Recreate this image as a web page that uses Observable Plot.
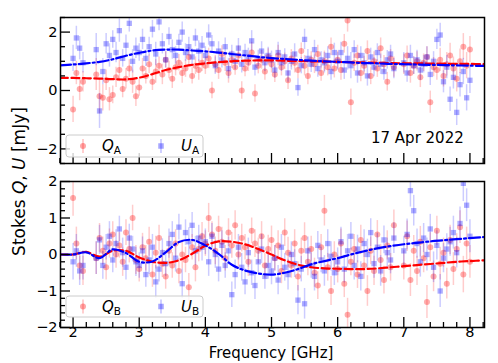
<!DOCTYPE html>
<html><head><meta charset="utf-8">
<script src="https://cdn.jsdelivr.net/npm/d3@7"></script>
<script src="https://cdn.jsdelivr.net/npm/@observablehq/plot@0.6"></script>
<style>
body{margin:0;background:#fff;}
#root{position:relative;width:498px;height:363px;overflow:hidden;background:#fff;font-family:"DejaVu Sans",sans-serif;}
#root > svg{position:absolute;left:0;}
</style></head><body><div id="root"></div>
<script>
// ---- channel frequencies (GHz) ----
const freq = [
 2.00,2.05,2.10,2.15,
 2.35,2.40,2.45,2.50,2.55,2.60,2.65,2.70,2.75,2.80,2.85,2.90,2.95,
 3.00,3.05,3.10,3.15,3.20,3.25,3.30,3.35,3.40,3.45,3.50,3.55,3.60,3.65,3.70,3.75,3.80,3.85,3.90,3.95,
 4.00,4.05,4.10,4.15,4.20,4.25,4.30,4.35,4.40,4.45,4.50,4.55,4.60,4.65,4.70,4.75,4.80,4.85,4.90,4.95,
 5.00,5.05,5.10,5.15,5.20,5.25,5.30,5.35,5.40,5.45,5.50,5.55,5.60,5.65,5.70,5.75,5.80,5.85,5.90,5.95,
 6.00,6.05,6.10,6.15,6.20,6.25,6.30,6.35,6.40,6.45,6.50,6.55,6.60,6.65,6.70,6.75,6.80,6.85,
 7.00,7.05,7.10,7.15,7.20,7.25,7.30,7.35,7.40,7.45,7.50,7.55,7.60,7.65,7.70,7.75,7.80,7.85,7.90,7.95,
 8.00];

// ---- panel A (17 Apr 2022) ----
const QA = [
 -0.65,0.6,0.05,0.3,
 0.55,-0.2,-0.25,0.35,-0.3,-0.15,0.45,0.7,0.05,0.4,0.75,0.3,-0.2,
 0.1,0.75,0.5,0.9,0.3,0.65,0.85,0.55,1.05,0.7,0.4,0.8,0.95,0.6,0.75,1.15,0.5,0.85,0.7,0.95,
 0.85,1.1,0.0,0.9,0.7,1.25,0.95,0.6,1.05,0.8,1.2,0.0,0.75,0.95,1.3,-0.1,0.85,1.05,0.65,1.15,
 0.9,0.55,1.2,0.8,1.0,0.35,1.1,0.95,0.7,1.35,0.85,0.5,1.05,0.9,1.25,0.6,1.0,0.8,1.5,0.75,
 1.05,0.7,1.6,2.4,-0.4,0.95,1.2,0.6,0.85,1.35,0.5,1.0,0.75,1.45,0.9,0.3,1.1,0.8,
 0.9,1.2,0.6,0.85,1.0,0.45,0.95,1.15,-0.4,0.8,0.7,1.05,0.5,0.9,1.2,0.75,0.4,1.0,1.5,0.85,
 1.4];
const UA = [
 1.1,1.8,1.45,0.95,
 1.4,-0.7,0.65,1.6,1.2,1.75,1.3,2.05,1.1,1.55,2.3,1.0,1.45,
 1.3,1.75,1.1,1.5,2.1,1.25,2.35,1.6,1.05,1.85,1.4,1.2,1.65,2.0,1.3,1.5,1.15,1.8,1.35,1.55,
 1.2,1.9,1.6,0.85,1.35,1.05,1.5,0.75,1.25,1.0,1.45,0.9,1.3,1.15,1.7,0.8,1.1,1.35,0.95,1.2,
 1.05,0.7,1.3,0.95,1.15,0.6,1.0,1.25,0.1,0.85,1.75,1.1,0.9,1.4,0.75,1.05,0.95,1.2,0.65,1.3,
 1.0,1.3,0.7,1.1,0.85,1.4,0.6,1.2,0.95,0.5,1.15,0.8,1.3,0.9,0.65,1.05,1.25,0.75,
 0.95,0.6,1.2,0.85,1.05,0.7,0.9,1.15,0.55,1.0,1.75,1.9,0.3,0.8,-0.3,0.45,-0.75,0.2,0.65,-0.25,
 0.35];
const errA = [
 0.45,0.4,0.4,0.35,
 0.55,0.6,0.45,0.35,0.4,0.3,0.35,0.4,0.3,0.35,0.3,0.4,0.35,
 0.3,0.35,0.28,0.32,0.3,0.4,0.3,0.35,0.28,0.3,0.33,0.3,0.28,0.35,0.3,0.32,0.28,0.3,0.35,0.3,
 0.3,0.35,0.28,0.3,0.32,0.28,0.3,0.35,0.3,0.28,0.33,0.3,0.28,0.3,0.35,0.3,0.28,0.32,0.3,0.28,
 0.3,0.28,0.35,0.3,0.28,0.32,0.3,0.35,0.3,0.28,0.35,0.3,0.28,0.32,0.3,0.28,0.35,0.3,0.3,0.32,
 0.3,0.35,0.32,0.4,0.45,0.3,0.35,0.3,0.32,0.35,0.3,0.33,0.3,0.35,0.3,0.32,0.3,0.35,
 0.35,0.32,0.35,0.3,0.33,0.35,0.3,0.35,0.38,0.33,0.35,0.4,0.38,0.4,0.42,0.4,0.45,0.42,0.45,0.45,
 0.45];

// ---- panel B ----
const QB = [
 1.55,0.3,-0.3,-0.45,
 -0.1,0.45,0.1,-0.35,0.3,0.55,0.0,0.25,-0.2,0.6,0.15,1.0,-0.15,
 -0.4,0.2,-0.1,0.35,-0.55,0.05,0.45,-0.25,-0.6,0.1,-0.3,0.3,-0.45,0.0,-0.15,-0.9,0.2,-0.35,0.15,0.5,
 0.3,1.0,0.55,0.1,0.7,0.35,-0.1,0.6,0.25,0.8,0.0,0.45,0.2,-0.2,0.65,0.3,0.1,0.5,-0.3,0.15,
 0.4,-0.1,0.25,-0.45,0.6,0.05,-0.3,0.3,-0.6,0.1,0.45,-0.2,0.15,-0.5,-0.85,0.2,1.2,-0.35,-1.0,0.0,
 -0.4,0.3,-0.8,-1.65,-0.2,0.15,-0.55,0.4,-0.3,-1.0,0.1,-0.45,0.55,-0.15,-0.7,0.25,-0.35,0.8,
 -0.3,0.5,-0.7,0.1,-0.45,0.35,-0.1,-1.3,0.2,-0.6,0.65,-0.25,0.05,-0.8,0.4,-0.4,0.15,0.75,-0.55,0.3,
 -0.2];
const UB = [
 -0.2,0.1,-0.45,-0.3,
 -0.1,0.4,-0.3,0.2,0.5,-0.15,0.3,0.7,0.05,-0.35,0.45,0.15,-0.2,
 -0.3,0.1,-0.55,-0.15,0.2,-0.75,-0.4,0.05,-0.25,0.3,0.55,-0.1,0.75,-0.8,0.6,0.35,0.8,0.1,0.45,0.2,
 0.35,-0.2,0.5,0.0,-0.4,0.25,-0.3,0.1,-1.1,-0.55,0.2,-0.35,-0.75,0.05,-0.5,-0.85,-0.2,0.15,-0.6,-0.3,
 -0.45,-0.1,-0.7,0.2,-0.35,-0.55,0.0,-0.25,-1.25,-0.4,-1.35,0.1,-0.3,-0.6,0.25,-0.15,-0.45,0.3,-0.05,-0.5,
 -0.2,0.35,-0.4,0.1,0.5,-0.3,0.15,-0.6,0.3,0.0,0.6,-0.25,0.2,-0.45,0.4,0.05,-0.15,0.45,
 0.1,0.55,1.75,1.2,0.3,-0.2,0.45,0.0,0.7,-0.35,0.25,-1.0,-0.1,0.15,0.35,0.6,0.05,0.85,1.95,1.35,
 0.5];
const errB = [
 0.5,0.45,0.4,0.4,
 0.45,0.4,0.38,0.35,0.4,0.35,0.38,0.35,0.4,0.35,0.38,0.35,0.4,
 0.35,0.38,0.35,0.4,0.35,0.45,0.35,0.38,0.35,0.4,0.35,0.38,0.35,0.4,0.35,0.38,0.35,0.4,0.35,0.38,
 0.35,0.4,0.35,0.38,0.35,0.4,0.35,0.38,0.35,0.4,0.35,0.38,0.35,0.4,0.35,0.38,0.35,0.4,0.35,0.38,
 0.38,0.35,0.4,0.35,0.38,0.42,0.35,0.38,0.4,0.35,0.42,0.38,0.35,0.4,0.38,0.35,0.42,0.38,0.4,0.35,
 0.38,0.4,0.38,0.45,0.38,0.4,0.38,0.4,0.38,0.42,0.38,0.4,0.38,0.42,0.38,0.4,0.38,0.42,
 0.4,0.42,0.45,0.42,0.4,0.42,0.4,0.45,0.4,0.42,0.4,0.45,0.4,0.42,0.4,0.45,0.42,0.45,0.5,0.45,
 0.45];

// ---- model curves ----
const modelF = [1.8,2.0,2.2,2.4,2.6,2.8,3.0,3.2,3.4,3.6,3.8,4.0,4.2,4.4,4.6,4.8,5.0,5.2,5.4,5.6,5.8,6.0,6.2,6.4,6.6,6.8,7.0,7.2,7.4,7.6,7.8,8.0,8.22];
const modelQA = [0.43,0.43,0.42,0.41,0.39,0.38,0.44,0.56,0.7,0.8,0.88,0.93,0.97,1.0,1.02,1.03,1.03,1.02,1.01,1.0,0.99,0.98,0.97,0.96,0.95,0.94,0.93,0.93,0.92,0.92,0.91,0.91,0.9];
const modelUA = [0.86,0.89,0.93,0.98,1.07,1.19,1.29,1.37,1.4,1.4,1.37,1.34,1.3,1.25,1.2,1.15,1.11,1.08,1.05,1.02,1.0,0.98,0.96,0.94,0.93,0.91,0.9,0.89,0.88,0.87,0.86,0.85,0.84];
const modelQB = [0.0,0.0,0.07,-0.06,0.1,0.1,-0.08,-0.2,-0.23,-0.16,0.02,0.24,0.36,0.35,0.28,0.15,0.0,-0.16,-0.28,-0.35,-0.38,-0.39,-0.4,-0.4,-0.38,-0.35,-0.32,-0.29,-0.26,-0.23,-0.2,-0.18,-0.16];
const modelUB = [0.0,0.0,0.06,-0.1,0.14,0.04,-0.2,-0.19,0.06,0.34,0.4,0.25,0.02,-0.28,-0.44,-0.52,-0.55,-0.5,-0.4,-0.27,-0.18,-0.1,0.0,0.09,0.17,0.23,0.28,0.32,0.36,0.39,0.42,0.45,0.48];

// ---- ticks & labels ----
const xTicks = [2,3,4,5,6,7,8];
const yTicksA = [-2,0,2];
const yTicksB = [-2,-1,0,1,2];
const seriesNames = ["Q","U"];
const panelTags = ["A","B"];
const dateText = "17 Apr 2022";
const xLabel = "Frequency [GHz]";

const W = 498, ML = 60, MR = 14;
const xDomain = [1.81, 8.22];
const fmt = d => d < 0 ? "\u2212" + Math.abs(d) : String(d);
const xMinor = d3.range(1.8, 8.25, 0.2).map(v => +v.toFixed(2)).filter(v => Math.abs(v - Math.round(v)) > 0.01);

function panel({q, u, e, qm, um, yDomain, yMajor, yMinor, height, mt, mb, xLabels}) {
  const fw = W - ML - MR, fh = height - mt - mb;
  const rows = freq.map((f, i) => ({f, q: q[i], u: u[i], e: e[i]}));
  const qLine = modelF.map((f, i) => ({f, v: qm[i]}));
  const uLine = modelF.map((f, i) => ({f, v: um[i]}));
  const tk = {stroke: "black", strokeWidth: 1.3};
  const marks = [
    Plot.ruleX(rows, {x: "f", y1: d => d.q - d.e, y2: d => d.q + d.e, stroke: "red", strokeOpacity: 0.2, strokeWidth: 1.5, clip: true}),
    Plot.dot(rows, {x: "f", y: "q", r: 3, fill: "red", fillOpacity: 0.32, clip: true}),
    Plot.ruleX(rows, {x: "f", y1: d => d.u - d.e, y2: d => d.u + d.e, stroke: "blue", strokeOpacity: 0.2, strokeWidth: 1.5, clip: true}),
    Plot.dot(rows, {x: "f", y: "u", r: 3, symbol: "square", fill: "blue", fillOpacity: 0.32, clip: true}),
    Plot.line(qLine, {x: "f", y: "v", stroke: "red", strokeWidth: 2.2, strokeDasharray: "8,3.5", curve: "catmull-rom", clip: true}),
    Plot.line(uLine, {x: "f", y: "v", stroke: "blue", strokeWidth: 2.2, strokeDasharray: "11,3,2,3", curve: "catmull-rom", clip: true}),
    Plot.tickX(xMinor, {x: d => d, insetTop: fh - 5, ...tk}),
    Plot.tickX(xTicks, {x: d => d, insetTop: fh - 10, ...tk}),
    Plot.tickY(yMinor, {y: d => d, insetRight: fw - 5, ...tk}),
    Plot.tickY(yMajor, {y: d => d, insetRight: fw - 10, ...tk}),
    Plot.axisY({ticks: yMajor, tickSize: 0, tickPadding: 3, tickFormat: fmt, fontSize: 14.5, label: null}),
    Plot.frame({stroke: "black", strokeWidth: 1.5})
  ];
  if (xLabels) marks.push(Plot.text(xTicks, {x: d => d, frameAnchor: "bottom", dy: 9, text: fmt, fontSize: 14.5, fill: "black"}));
  return Plot.plot({
    width: W, height, marginLeft: ML, marginRight: MR, marginTop: mt, marginBottom: mb,
    x: {domain: xDomain, axis: null}, y: {domain: yDomain},
    style: {fontFamily: "DejaVu Sans, sans-serif", fontSize: "15px", color: "black", background: "transparent", overflow: "visible"},
    marks
  });
}

const root = document.getElementById("root");
const topPanel = panel({q: QA, u: UA, e: errA, qm: modelQA, um: modelUA, yDomain: [-2.5, 2.5], yMajor: yTicksA,
  yMinor: [-2.5,-1.5,-1,-0.5,0.5,1,1.5,2.5], height: 170, mt: 17, mb: 7, xLabels: false});
topPanel.style.top = "0px";
root.appendChild(topPanel);
const botPanel = panel({q: QB, u: UB, e: errB, qm: modelQB, um: modelUB, yDomain: [-2, 2], yMajor: yTicksB,
  yMinor: [-1.8,-1.6,-1.4,-1.2,-0.8,-0.6,-0.4,-0.2,0.2,0.4,0.6,0.8,1.2,1.4,1.6,1.8], height: 193, mt: 11, mb: 36, xLabels: true});
botPanel.style.top = "170px";
root.appendChild(botPanel);

function legend(y0, h, tag) {
  const cy = y0 + h / 2;
  return `<rect x="66" y="${y0}" width="137" height="${h}" rx="3" fill="white" fill-opacity="0.8" stroke="#cccccc"/>
  <line x1="83" x2="83" y1="${cy - 7}" y2="${cy + 7}" stroke="red" stroke-opacity="0.25" stroke-width="1.5"/>
  <circle cx="83" cy="${cy}" r="3" fill="red" fill-opacity="0.35"/>
  <text x="102" y="${cy + 5}" font-size="15"><tspan font-style="italic">${seriesNames[0]}</tspan><tspan font-size="10.5" dy="3">${tag}</tspan></text>
  <line x1="161" x2="161" y1="${cy - 7}" y2="${cy + 7}" stroke="blue" stroke-opacity="0.25" stroke-width="1.5"/>
  <rect x="${161 - 2.75}" y="${cy - 2.75}" width="5.5" height="5.5" fill="blue" fill-opacity="0.35"/>
  <text x="181" y="${cy + 5}" font-size="15"><tspan font-style="italic">${seriesNames[1]}</tspan><tspan font-size="10.5" dy="3">${tag}</tspan></text>`;
}

const ov = document.createElementNS("http://www.w3.org/2000/svg", "svg");
ov.setAttribute("width", 498); ov.setAttribute("height", 363);
ov.setAttribute("font-family", "DejaVu Sans, sans-serif");
ov.style.top = "0px";
ov.innerHTML = `
 <text transform="translate(25,181.5) rotate(-90)" text-anchor="middle" font-size="17">Stokes <tspan font-style="italic">Q</tspan>, <tspan font-style="italic">U</tspan> [mJy]</text>
 <text x="271" y="357.5" text-anchor="middle" font-size="15">${xLabel}</text>
 <text x="371" y="143" font-size="15">${dateText}</text>
 ${legend(135, 22, panelTags[0])}
 ${legend(296, 21, panelTags[1])}`;
root.appendChild(ov);
</script></body></html>
